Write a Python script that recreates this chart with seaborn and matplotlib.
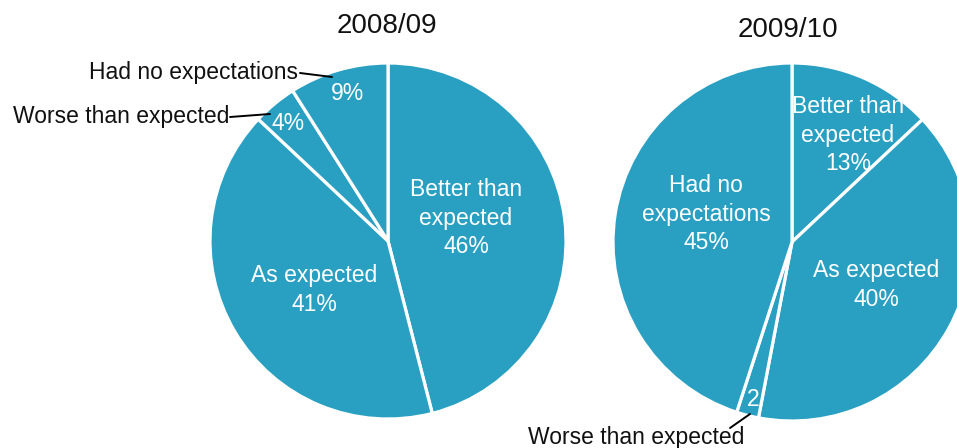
import matplotlib
matplotlib.use("Agg")
import matplotlib.pyplot as plt
import seaborn as sns

sns.set_theme(style="white")
plt.rcParams["font.family"] = ["Liberation Sans", "DejaVu Sans"]

categories = ["Better than expected", "As expected", "Worse than expected", "Had no expectations"]
values_0809 = [46, 41, 4, 9]
values_1011 = [13, 40, 2, 45]
titles = ["2008/09", "2009/10"]

W, H = 957, 448
fig = plt.figure(figsize=(W / 100, H / 100), dpi=100)
ax = fig.add_axes([0, 0, 1, 1])

color = "#29A0C2"
wp = dict(edgecolor="white", linewidth=2.3)

def Y(py):
    return H - py

ax.pie(values_0809, colors=[color] * 4, startangle=90, counterclock=False,
       center=(388, Y(241)), radius=178, wedgeprops=wp)
ax.pie(values_1011, colors=[color] * 4, startangle=90, counterclock=False,
       center=(792, Y(242)), radius=179, wedgeprops=wp)
ax.set_xlim(0, W)
ax.set_ylim(0, H)
ax.set_aspect("equal")
ax.axis("off")

fs = 16.5
wt = dict(color="white", fontsize=fs, ha="center", va="center", linespacing=1.32)
kt = dict(color="#111111", fontsize=fs, va="center")

# titles
ax.text(387, Y(26), titles[0], fontsize=20, ha="center", va="center", color="#111111")
ax.text(788, Y(30), titles[1], fontsize=20, ha="center", va="center", color="#111111")

# left pie labels
ax.text(466, Y(218), f"Better than\nexpected\n{values_0809[0]}%", **wt)
ax.text(314, Y(290), f"As expected\n{values_0809[1]}%", **wt)
ax.text(288, Y(123), f"{values_0809[2]}%", **wt)
ax.text(348, Y(93), f"{values_0809[3]}%", **wt)
ax.text(298, Y(72), categories[3], ha="right", **kt)
ax.plot([300, 332], [Y(73), Y(77)], color="black", lw=1.4)
ax.text(229, Y(116), categories[2], ha="right", **kt)
ax.plot([230, 270], [Y(117), Y(114)], color="black", lw=1.4)

# right pie labels
ax.text(848, Y(135), f"Better than\nexpected\n{values_1011[0]}%", **wt)
ax.text(876, Y(285), f"As expected\n{values_1011[1]}%", **wt)
ax.text(706, Y(214), f"Had no\nexpectations\n{values_1011[3]}%", **wt)
ax.text(753, Y(400), f"{values_1011[2]}", **wt)
ax.text(636, Y(437), categories[2], ha="center", **kt)
ax.plot([730, 750], [Y(428), Y(414)], color="black", lw=1.4)

fig.savefig("out.png", dpi=100)
